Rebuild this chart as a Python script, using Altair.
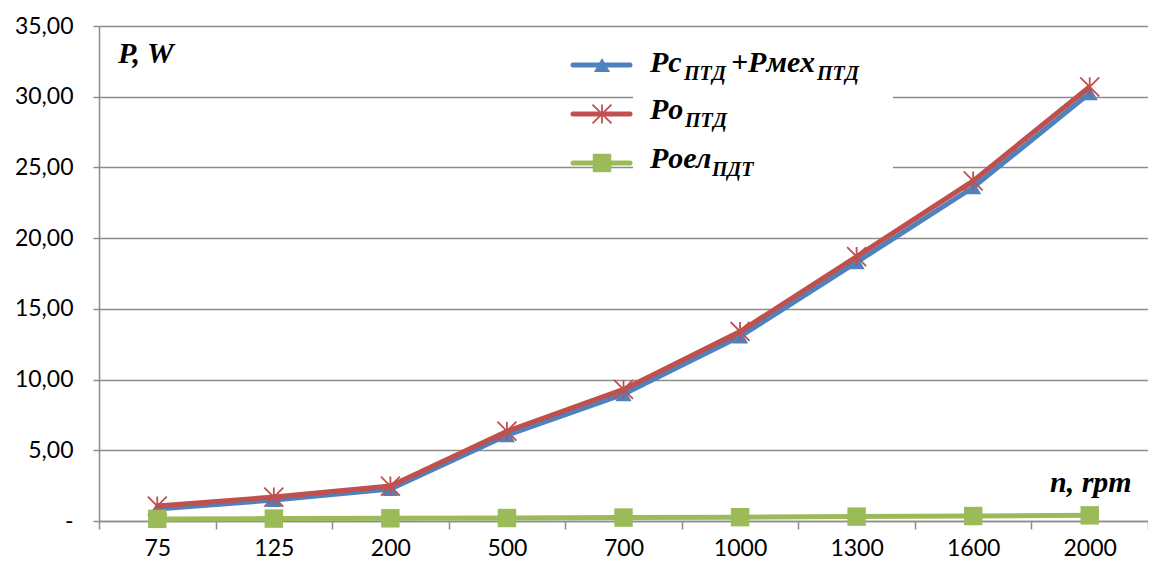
import altair as alt
import pandas as pd

categories = ["75", "125", "200", "500", "700", "1000", "1300", "1600", "2000"]
p_sum = [0.85, 1.48, 2.26, 6.06, 8.96, 13.05, 18.3, 23.6, 30.25]
p_o = [1.06, 1.69, 2.47, 6.35, 9.3, 13.4, 18.7, 24.05, 30.7]
p_oel = [0.15, 0.17, 0.19, 0.21, 0.24, 0.27, 0.31, 0.35, 0.40]
y_ticks = [0, 5, 10, 15, 20, 25, 30, 35]

BLUE = "#4F81BD"
RED = "#C0504D"
GREEN = "#9BBB59"
GRID = "#8C8C8C"
SERIF = "Liberation Serif"
SANS = "Lato"

df = pd.DataFrame({
    "n": categories * 3,
    "P": p_sum + p_o + p_oel,
    "s": ["sum"] * 9 + ["o"] * 9 + ["oel"] * 9,
})

W, H = 1049, 495

x_enc = alt.X("n:N", sort=categories, bandPosition=0.5,
              scale=alt.Scale(type="band", paddingInner=0, paddingOuter=0),
              axis=alt.Axis(title=None, tickBand="extent", labelFont=SANS, labelFontSize=23,
                            labelColor="#000", labelAngle=0, labelPadding=8,
                            domainColor=GRID, domainWidth=1.5, tickColor=GRID, tickWidth=1.5,
                            tickSize=8, grid=False))
y_enc = alt.Y("P:Q", scale=alt.Scale(domain=[0, 35], nice=False),
              axis=alt.Axis(title=None, values=y_ticks, labelFont=SANS, labelFontSize=23,
                            labelColor="#000", labelPadding=20,
                            labelExpr="datum.value == 0 ? '-\u00a0\u00a0\u00a0' : replace(format(datum.value, '.2f'), '.', ',')",
                            domainColor=GRID, domainWidth=1.5, tickColor=GRID, tickWidth=1.5,
                            tickSize=6, grid=True, gridColor=GRID, gridWidth=1.5))

base = alt.Chart(df).encode(x=x_enc, y=y_enc)


def series(key, color, shape, size, filled, sw=1.5):
    d = base.transform_filter(alt.datum.s == key)
    line = d.mark_line(color=color, strokeWidth=5)
    pt = d.mark_point(color=color, shape=shape, size=size, filled=filled, opacity=1,
                      strokeWidth=sw)
    return line + pt


ASTER = "M-1,-1L1,1M-1,1L1,-1M0,-1L0,1"

layers = [
    series("sum", BLUE, "triangle-up", 260, True),
    series("o", RED, ASTER, 360, False, 1.8),
    series("oel", GREEN, "square", 340, True),
]

one = pd.DataFrame({"a": [0]})

# legend background box (hides the gridlines behind the legend text)
box = alt.Chart(one).mark_rect(color="white").encode(
    x=alt.value(534), x2=alt.value(794), y=alt.value(14), y2=alt.value(170))

leg_y = [39, 88, 137]
leg_colors = [BLUE, RED, GREEN]
leg_shapes = ["triangle-up", ASTER, "square"]
leg_sizes = [260, 360, 340]
leg_filled = [True, False, True]
leg_layers = []
for yy, c, sh, sz, fl in zip(leg_y, leg_colors, leg_shapes, leg_sizes, leg_filled):
    leg_layers.append(alt.Chart(one).mark_rule(color=c, strokeWidth=5, strokeCap="round").encode(
        x=alt.value(474), x2=alt.value(531), y=alt.value(yy)))
    leg_layers.append(alt.Chart(one).mark_point(color=c, shape=sh, size=sz, filled=fl, opacity=1,
                                                strokeWidth=1.8).encode(x=alt.value(503), y=alt.value(yy)))

MAIN, SUB = 30, 20
texts = [
    ("Pc", 551, 46, MAIN),
    ("ПТД", 585, 54, SUB),
    ("+Pмех", 632, 46, MAIN),
    ("ПТД", 718, 54, SUB),
    ("Po", 551, 93, MAIN),
    ("ПТД", 586, 101, SUB),
    ("Poел", 551, 142, MAIN),
    ("ПДТ", 613, 150, SUB),
    ("P, W", 19, 37, 30),
    ("n, rpm", 951, 466, 30),
]
text_layers = []
for t, xx, yy, fs in texts:
    text_layers.append(alt.Chart(one).mark_text(
        text=t, align="left", baseline="alphabetic", fontSize=fs, font=SERIF,
        fontStyle="italic", fontWeight="bold", color="#000").encode(
        x=alt.value(xx), y=alt.value(yy)))

chart = alt.layer(box, *layers, *leg_layers, *text_layers).properties(
    width=W, height=H,
    background="white",
    autosize=alt.AutoSizeParams(type="none"),
    padding={"left": 91, "top": 18, "right": 0, "bottom": 40},
).configure_view(stroke=None).configure_text(
    font=SERIF, fontStyle="italic", fontWeight="bold"
).configure_axis(labelFont=SANS)

chart.save("out.html", embed_options={"renderer": "svg", "actions": False})
